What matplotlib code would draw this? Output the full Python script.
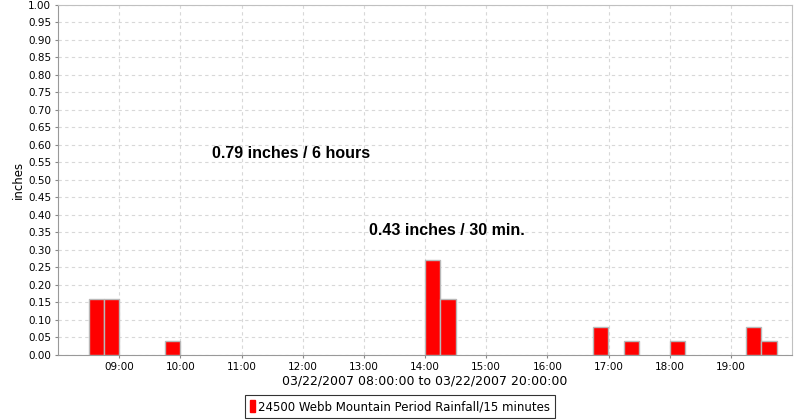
import datetime as dt
import matplotlib
matplotlib.use("Agg")
import matplotlib.pyplot as plt
import matplotlib.dates as mdates
from matplotlib.patches import Patch

# 15-minute period start times and rainfall (inches)
period_starts = ["08:30", "08:45", "09:45", "14:00", "14:15",
                 "16:45", "17:15", "18:00", "19:15", "19:30"]
rainfall = [0.16, 0.16, 0.04, 0.27, 0.16, 0.08, 0.04, 0.04, 0.08, 0.04]
series_name = "24500 Webb Mountain Period Rainfall/15 minutes"
notes = ["0.79 inches / 6 hours", "0.43 inches / 30 min."]

day = dt.date(2007, 3, 22)
starts = [dt.datetime.combine(day, dt.datetime.strptime(s, "%H:%M").time()) for s in period_starts]
t0 = dt.datetime(2007, 3, 22, 8, 0)
t1 = dt.datetime(2007, 3, 22, 20, 0)

fig = plt.figure(figsize=(8, 4.2), dpi=100)
ax = fig.add_axes([0.0725, 0.1548, 0.9175, 0.8333])

ax.bar(starts, rainfall, width=dt.timedelta(minutes=15), align="edge",
       color="#ff0000", edgecolor="#b8b8b8", linewidth=1.0, zorder=3)

ax.set_xlim(t0, t1)
ax.set_ylim(0, 1.0)
ax.set_yticks([i * 0.05 for i in range(21)])
ax.yaxis.set_major_formatter(matplotlib.ticker.FormatStrFormatter("%.2f"))
ax.xaxis.set_major_locator(mdates.HourLocator(byhour=range(9, 20)))
ax.xaxis.set_major_formatter(mdates.DateFormatter("%H:%M"))
ax.tick_params(labelsize=7.5, length=2, color="#888888", pad=3)

ax.grid(True, color="#d8d8d8", linestyle=(0, (3, 3)), linewidth=0.8, zorder=0)
for side in ["left", "bottom", "top", "right"]:
    ax.spines[side].set_color("#999999")
ax.spines["top"].set_color("#c0c0c0")
ax.spines["right"].set_color("#c0c0c0")

ax.set_ylabel("inches", fontsize=8.5, labelpad=2)
ax.set_xlabel("03/22/2007 08:00:00 to 03/22/2007 20:00:00", fontsize=9, labelpad=2)

ax.text(dt.datetime(2007, 3, 22, 10, 31), 0.575, notes[0], fontsize=11.5,
        fontweight="bold", family="Liberation Sans", va="center")
ax.text(dt.datetime(2007, 3, 22, 13, 5), 0.355, notes[1], fontsize=11.5,
        fontweight="bold", family="Liberation Sans", va="center")

handle = Patch(facecolor="#ff0000", edgecolor="#ff0000")
leg = fig.legend([handle], [series_name], loc="center", bbox_to_anchor=(0.5, 0.032),
                 fontsize=8.5, frameon=True, fancybox=False, handlelength=0.45,
                 handleheight=1.1, handletextpad=0.2, borderpad=0.45, borderaxespad=0)
leg.get_frame().set_edgecolor("#000000")
leg.get_frame().set_linewidth(0.8)

fig.savefig("out.png", dpi=100)
